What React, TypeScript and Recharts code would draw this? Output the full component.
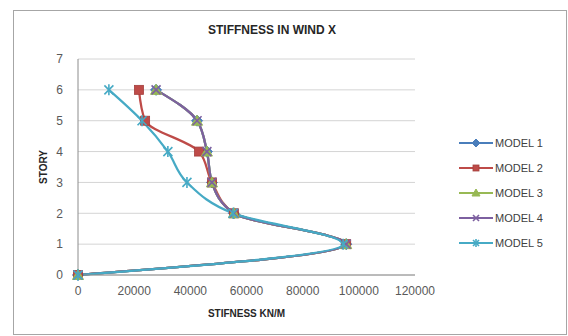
import { LineChart, Line, XAxis, YAxis, CartesianGrid, Legend } from 'recharts';

// story levels and stiffness (kN/m)
const stories = [0, 1, 2, 3, 4, 5, 6];
const model1 = [0, 95500, 55500, 47700, 45900, 42400, 27800];
const model2 = [0, 95500, 55500, 47700, 43100, 23900, 21700];
const model3 = [0, 95500, 55500, 47700, 45900, 42400, 27800];
const model4 = [0, 95500, 55500, 47700, 45900, 42400, 27800];
const model5 = [0, 94400, 55200, 38800, 32000, 22800, 11000];

const xTicks = [0, 20000, 40000, 60000, 80000, 100000, 120000];
const yTicks = [0, 1, 2, 3, 4, 5, 6, 7];

const data = stories.map((story, i) => ({
    story,
    m1: model1[i],
    m2: model2[i],
    m3: model3[i],
    m4: model4[i],
    m5: model5[i],
}));

const FONT = '"Liberation Sans", Arial, sans-serif';

type MarkerKind = 'diamond' | 'square' | 'triangle' | 'cross' | 'star';

const series: { key: string; name: string; color: string; marker: MarkerKind }[] = [
    { key: 'm1', name: 'MODEL 1', color: '#4a7ebb', marker: 'diamond' },
    { key: 'm2', name: 'MODEL 2', color: '#be4b48', marker: 'square' },
    { key: 'm3', name: 'MODEL 3', color: '#98b954', marker: 'triangle' },
    { key: 'm4', name: 'MODEL 4', color: '#7d60a0', marker: 'cross' },
    { key: 'm5', name: 'MODEL 5', color: '#46aac5', marker: 'star' },
];

function marker(kind: MarkerKind, color: string, cx: number, cy: number, s: number, key?: any) {
    const h = s / 2;
    switch (kind) {
        case 'diamond':
            return <polygon key={key} points={`${cx},${cy - h - 1} ${cx + h + 1},${cy} ${cx},${cy + h + 1} ${cx - h - 1},${cy}`} fill={color} stroke={color} />;
        case 'square':
            return <rect key={key} x={cx - h} y={cy - h} width={s} height={s} fill={color} stroke="#a33f3c" strokeWidth={0.8} />;
        case 'triangle':
            return <polygon key={key} points={`${cx},${cy - h - 1} ${cx + h + 1},${cy + h} ${cx - h - 1},${cy + h}`} fill={color} stroke={color} />;
        case 'cross':
            return (
                <g key={key} stroke={color} strokeWidth={1.6}>
                    <line x1={cx - h} y1={cy - h} x2={cx + h} y2={cy + h} />
                    <line x1={cx - h} y1={cy + h} x2={cx + h} y2={cy - h} />
                </g>
            );
        case 'star':
        default:
            return (
                <g key={key} stroke={color} strokeWidth={1.6}>
                    <line x1={cx - h} y1={cy - h} x2={cx + h} y2={cy + h} />
                    <line x1={cx - h} y1={cy + h} x2={cx + h} y2={cy - h} />
                    <line x1={cx} y1={cy - h - 1} x2={cx} y2={cy + h + 1} />
                </g>
            );
    }
}

const renderLegend = () => (
    <div style={{ fontFamily: FONT, fontSize: 11, color: '#404040' }}>
        {series.map((s) => (
            <div key={s.key} style={{ display: 'flex', alignItems: 'center', height: 25 }}>
                <svg width={34} height={12} style={{ marginRight: 2 }}>
                    <line x1={0} y1={6} x2={34} y2={6} stroke={s.color} strokeWidth={2.2} />
                    {marker(s.marker, s.color, 17, 6, 6)}
                </svg>
                <span>{s.name}</span>
            </div>
        ))}
    </div>
);

export default function App() {
    return (
        <div style={{ position: 'absolute', left: 0, top: 0, width: 568, height: 336, background: '#fff' }}>
            {/* chart frame */}
            <div
                style={{
                    position: 'absolute',
                    left: 13,
                    top: 10,
                    width: 552,
                    height: 323,
                    border: '1px solid #a6a6a6',
                }}
            />
            <div
                style={{
                    position: 'absolute',
                    left: 192,
                    top: 23,
                    width: 160,
                    textAlign: 'center',
                    fontFamily: FONT,
                    fontWeight: 'bold',
                    fontSize: 12,
                    lineHeight: '14px',
                    color: '#262626',
                }}
            >
                STIFFNESS IN WIND X
            </div>
            <div style={{ position: 'absolute', left: 0, top: 0 }}>
                <LineChart
                    width={568}
                    height={336}
                    data={data}
                    layout="vertical"
                    margin={{ top: 59, right: 153, left: 0, bottom: 16 }}
                >
                    <CartesianGrid vertical={false} stroke="#d4d4d4" />
                    <XAxis
                        type="number"
                        domain={[0, 120000]}
                        ticks={xTicks}
                        interval={0}
                        height={45}
                        axisLine={{ stroke: '#8c8c8c' }}
                        tickLine={false}
                        tickSize={0}
                        tickMargin={11}
                        tick={{ fill: '#595959', fontSize: 12, fontFamily: FONT }}
                        label={{
                            value: 'STIFNESS KN/M',
                            position: 'insideBottom',
                            offset: 3,
                            style: { fill: '#262626', fontSize: 10, fontWeight: 'bold', fontFamily: FONT },
                        }}
                    />
                    <YAxis
                        type="number"
                        dataKey="story"
                        domain={[0, 7]}
                        ticks={yTicks}
                        interval={0}
                        reversed
                        width={78}
                        axisLine={{ stroke: '#8c8c8c' }}
                        tickLine={false}
                        tickSize={0}
                        tickMargin={15}
                        tick={{ fill: '#595959', fontSize: 12, fontFamily: FONT }}
                        label={{
                            value: 'STORY',
                            angle: -90,
                            position: 'insideLeft',
                            offset: 43,
                            style: { fill: '#262626', fontSize: 10, fontWeight: 'bold', fontFamily: FONT, textAnchor: 'middle' },
                        }}
                    />
                    <Legend
                        content={renderLegend}
                        layout="horizontal"
                        verticalAlign="middle"
                        align="center"
                        wrapperStyle={{ left: 459, top: 130, width: 110 }}
                    />
                    {series.map((s) => (
                        <Line
                            key={s.key}
                            dataKey={s.key}
                            name={s.name}
                            type="monotone"
                            stroke={s.color}
                            strokeWidth={2.25}
                            isAnimationActive={false}
                            dot={(p: any) => marker(s.marker, s.color, p.cx, p.cy, 9, p.key ?? `${s.key}-${p.index}`)}
                            activeDot={false}
                        />
                    ))}
                </LineChart>
            </div>
        </div>
    );
}
